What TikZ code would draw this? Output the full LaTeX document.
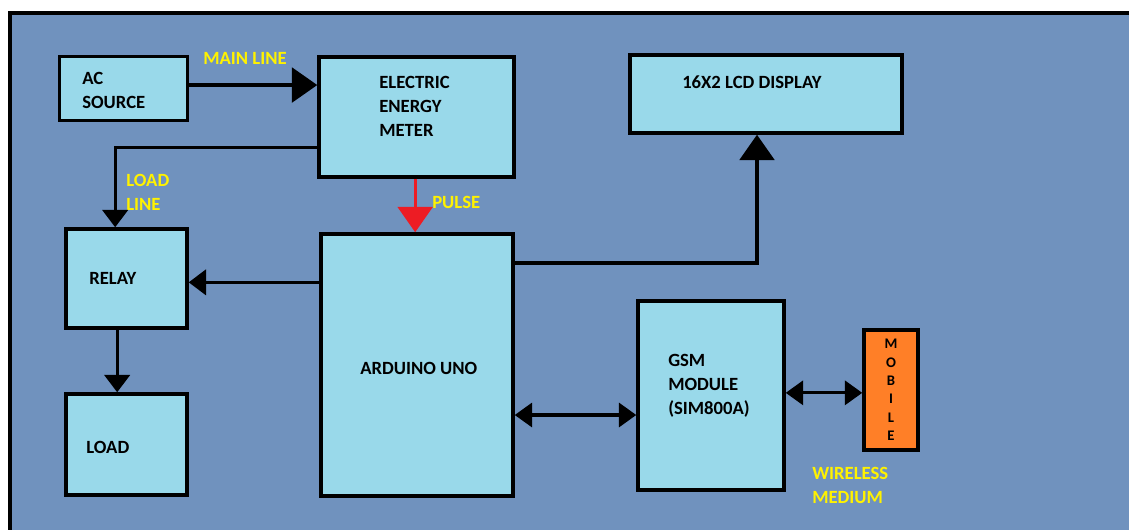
\documentclass[tikz,border=0pt]{standalone}
\usepackage{fontspec}
\setmainfont{Carlito}
\usetikzlibrary{arrows.meta}

\definecolor{bgblue}{HTML}{7092BE}
\definecolor{boxblue}{HTML}{99D9EA}
\definecolor{mobileorange}{HTML}{FF7F27}
\definecolor{labelyellow}{HTML}{FFF200}
\definecolor{pulsered}{HTML}{ED1C24}

\tikzset{
  box/.style={draw,fill=boxblue,line width=2.6pt,inner sep=0pt},
  txt/.style={anchor=west,inner sep=0pt,align=left,font=\bfseries\fontsize{14}{18}\selectfont},
  lab/.style={txt,text=labelyellow},
  conn/.style={line width=2.4pt,-{Triangle[length=13pt,width=19pt]}},
  bigconn/.style={line width=2.4pt,-{Triangle[length=19pt,width=26pt]}},
  dconn/.style={line width=2.4pt,{Triangle[length=13pt,width=18pt]}-{Triangle[length=13pt,width=18pt]}},
}

\begin{document}
\begin{tikzpicture}[x=0.75pt,y=-0.75pt]

\useasboundingbox (0,0) rectangle (1129,529);
\clip (0,0) rectangle (1129,529);

% background panel
\fill[bgblue] (10,13) rectangle (1140,540);
\draw[line width=3pt] (1140,13) -- (10,13) -- (10,540);

% blocks
\node[box,minimum width=128*0.75pt,minimum height=64*0.75pt]
(AC)
at (123.5,88.5)
{};

\node[box,minimum width=195*0.75pt,minimum height=120*0.75pt]
(EEM)
at (416.5,117)
{};

\node[box,minimum width=272*0.75pt,minimum height=78*0.75pt]
(LCD)
at (766,94)
{};

\node[box,minimum width=121*0.75pt,minimum height=99*0.75pt]
(R)
at (126.5,278.5)
{};

\node[box,minimum width=121*0.75pt,minimum height=101*0.75pt]
(L)
at (126.5,444.5)
{};

\node[box,minimum width=192*0.75pt,minimum height=262*0.75pt]
(A)
at (417,365)
{};

\node[box,minimum width=146*0.75pt,minimum height=189*0.75pt]
(G)
at (711,395.5)
{};

\node[box,fill=mobileorange,minimum width=54*0.75pt,minimum height=120*0.75pt,
      align=center,font=\bfseries\fontsize{11}{13.8}\selectfont]
(M)
at (891,390)
{M\\O\\B\\I\\L\\E};

% block texts
\node[txt] (tAC) at (82,90) {AC\\SOURCE};
\node[txt] (tEEM) at (379,106) {ELECTRIC\\ENERGY\\METER};
\node[txt] (tLCD) at (682,82) {16X2 LCD DISPLAY};
\node[txt] (tR) at (89,278) {RELAY};
\node[txt] (tL) at (86,447) {LOAD};
\node[txt] (tA) at (360,368) {ARDUINO UNO};
\node[txt] (tG) at (668,386) {GSM\\MODULE\\(SIM800A)};

% line labels
\node[lab] (tMain) at (203,58) {MAIN LINE};
\node[lab] (tLoad) at (126,192) {LOAD\\LINE};
\node[lab] (tPulse) at (432,202) {PULSE};
\node[lab] (tWire) at (812,485) {WIRELESS\\MEDIUM};

% connectors
\draw[bigconn] ([yshift=2.6pt]AC.east) -- ([yshift=2.6pt]AC.east -| EEM.west);
\draw[conn] ([yshift=-23pt]EEM.west) -| ([xshift=-8.5pt]R.north);
\draw[bigconn,pulsered] ([xshift=-1pt]EEM.south) -- ([xshift=-1pt]EEM.south |- A.north);
\draw[conn] ([yshift=62pt]A.west) -- ([yshift=62pt]A.west -| R.east);
\draw[conn] ([xshift=-7pt]R.south) -- ([xshift=-7pt]R.south |- L.north);
\draw[bigconn] ([yshift=76.5pt]A.east) -| ([xshift=-6.75pt]LCD.south);
\draw[dconn] ([yshift=-37.5pt]A.east) -- ([yshift=-37.5pt]A.east -| G.west);
\draw[dconn] ([yshift=2pt]G.east) -- ([yshift=2pt]G.east -| M.west);

\end{tikzpicture}
\end{document}
